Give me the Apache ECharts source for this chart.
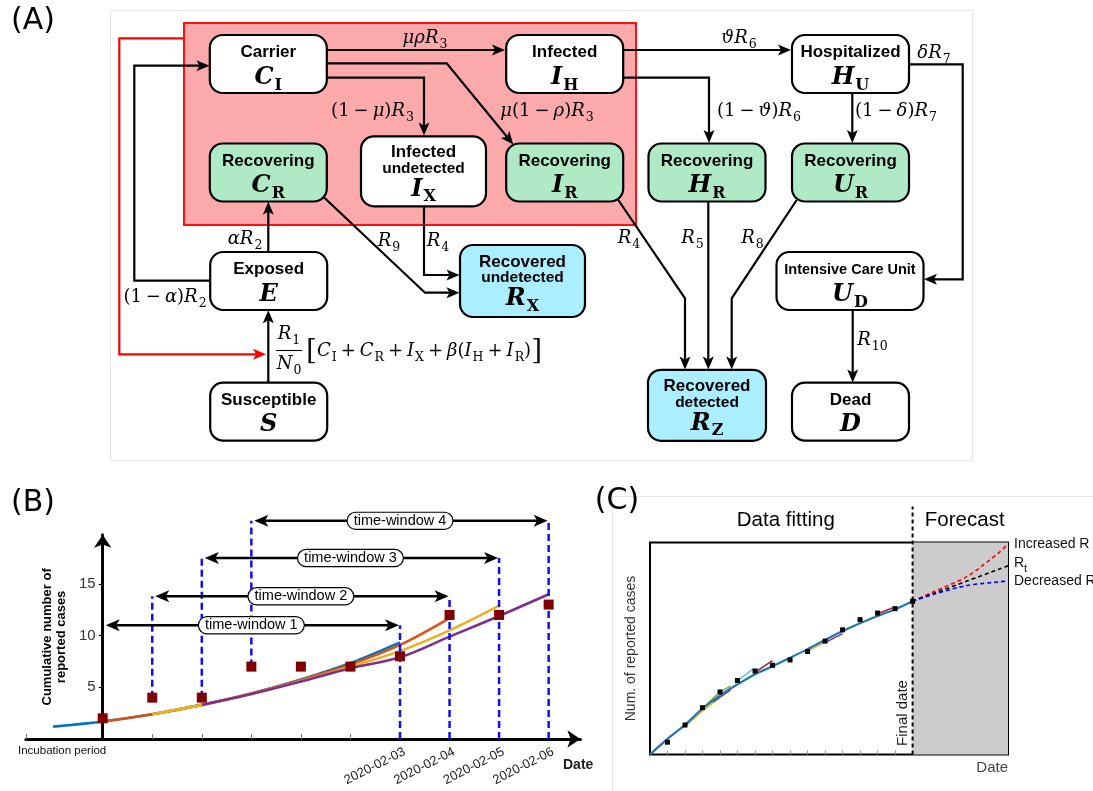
<!DOCTYPE html>
<html><head><meta charset="utf-8">
<script src="https://cdn.jsdelivr.net/npm/echarts@6.0.0/dist/echarts.min.js"></script>
<style>html,body{margin:0;padding:0;background:#fff}#c{width:1093px;height:791px}</style>
</head><body><div id="c"></div><script>
// ================= Panel A : compartment model =================
const nodeTitle = ['Carrier','Infected','Hospitalized','Recovering','Infected','Recovering','Recovering','Recovering','Exposed','Recovered','Intensive Care Unit','Susceptible','Recovered','Dead'];
const nodeSubtitle = ['','','','','undetected','','','','','undetected','','','detected',''];
const nodeSymbol = ['C','I','H','C','I','I','H','U','E','R','U','S','R','D'];
const nodeSymbolSub = ['I','H','U','R','X','R','R','R','','X','D','','Z',''];
const nodeGroup = ['active','active','active','recovering','active','recovering','recovering','recovering','active','recovered','active','active','recovered','active'];
// diagram layout (diagram coordinates)
const nodeCX = [268.3,564.7,850.5,268.3,423.5,564.7,707,850.5,268.7,522.5,850,268.7,707,850.5];
const nodeCY = [64,64,64,172.5,171.3,172.5,172.5,172.5,281,281,281,411.7,405.3,411.7];
const nodeW = [117,117,117,117,125,117,117,117,117,125,147,117,118,117];
const nodeH = [58,58,58,58,70,58,58,58,58,72,58,58,71,58];

const rateTex = ['μρR_3','(1−μ)R_3','μ(1−ρ)R_3','ϑR_6','(1−ϑ)R_6','(1−δ)R_7','δR_7','αR_2','(1−α)R_2','R_9','R_4','R_4','R_5','R_8','R_{10}'];
const ratePos = [[425,38.5],[372.5,111],[547,111],[739,38.5],[759,111],[896,111],[934,53],[245,239],[165,297.5],[389,241.5],[438,241.5],[629,238.5],[692.5,238.5],[752.5,238.5],[872.5,340]];
const forceNum = 'R_1', forceDen = 'N_0', forceSum = '[C_I+C_R+I_X+β(I_H+I_R)]';

const flowPath = [
  [[327,50],[505,50]],
  [[327,77.7],[424,77.7],[424,135.5]],
  [[327,63.3],[446.7,63.3],[513.3,144.5]],
  [[623.5,50],[791,50]],
  [[623.5,77.7],[709,77.7],[709,143]],
  [[852.3,93.5],[852.3,143]],
  [[909.5,64.3],[962.7,64.3],[962.7,279.3],[924,279.3]],
  [[268.3,251.7],[268.3,201.8]],
  [[210,280.7],[134.3,280.7],[134.3,65.7],[209.5,65.7]],
  [[268.3,382.7],[268.3,310.3]],
  [[323.3,196.7],[425,292.7],[459.5,292.7]],
  [[424,206.5],[424,275],[459.5,275]],
  [[618.3,200],[685,298.3],[685,369.5]],
  [[708.3,201.8],[708.3,369.5]],
  [[796.7,200],[731.7,298.3],[731.7,369.5]],
  [[852.7,310],[852.7,382.5]]
];
const feedbackPath = [[[184,38.3],[119.3,38.3],[119.3,354.3],[266,354.3]]];

// ================= Panel B : time windows =================
const bDays = [0,1,2,3,4,5,6,7,8,9];
const bReported = [2,4,4,7,7,7,8,12,12,13];
const bDateTicks = [6,7,8,9];
const bDateLabels = ['2020-02-03','2020-02-04','2020-02-05','2020-02-06'];
const bYTicks = [5,10,15];
const bFitW1 = [[-1,1.2],[0,1.7],[1,2.4],[2,3.3],[3,4.4],[4,5.75],[5,7.35],[6,9.35]];
const bFitW2 = [[0,1.7],[1,2.4],[2,3.3],[3,4.4],[4,5.7],[5,7.2],[6,9.1],[7,11.7]];
const bFitW3 = [[1,2.4],[2,3.3],[3,4.35],[4,5.6],[5,7.0],[6,8.5],[7,10.5],[8,12.9]];
const bFitW4 = [[2,3.3],[3,4.35],[4,5.55],[5,6.85],[6,7.9],[7,9.9],[8,11.9],[9,14.0]];
const windowNames = ['time-window 1','time-window 2','time-window 3','time-window 4'];
const windowStart = [0,1,2,3];
const windowEnd = [6,7,8,9];
const windowLevel = [11.0,13.8,17.5,21.1];

// ================= Panel C : fitting & forecast =================
const cDays = [1,2,3,4,5,6,7,8,9,10,11,12,13,14,15];
const cReported = [5.8,13.9,22.1,29.5,34.9,39.4,42.1,44.6,48.6,53.5,58.8,63.6,66.7,68.8,72.3];
const cFitDays = [0,1,2,3,4,5,6,7,8,9,10,11,12,13,14,15];
const cFit = [0,7.4,14.0,21.6,27.9,33.1,37.9,41.6,45.6,49.7,54.0,58.2,61.9,65.3,68.5,72.3];
const cWinFit1 = [[0,0],[0.9,6.6]];
const cWinFit2 = [[2,13.2],[3,20.5],[4,26.8]];
const cWinFit3 = [[3,21.8],[4,29.6],[4.6,32.2]];
const cWinFit4 = [[3.6,24.8],[4,27.0],[4.6,30.4]];
const cWinFit5 = [[5,34.9],[5.9,40.4]];
const cWinFit6 = [[5.9,38.3],[7,44.3]];
const cWinFit7 = [[9,48.8],[10,53.0]];
const cWinFit8 = [[10,52.8],[11,57.0]];
const cWinFit9 = [[13,66.4],[14,69.6]];
const cWinColors = ['#a2142f','#edb120','#77ac30','#7e2f8e','#4dbeee','#a2142f','#edb120','#7e2f8e','#a2142f'];
const cFinalDay = 15;
const cFcDays = [15,16.2,18.1,20.0,20.45];
const cFcIncreased = [72.3,76.8,83.9,95.7,99.4];
const cFcRt = [72.3,76.0,81.8,87.6,89.0];
const cFcDecreased = [72.3,75.6,79.7,81.5,81.9];
const cScenarioNames = ['Increased R','R_t','Decreased R'];

// ================= helpers =================
const SERIF = 'DejaVu Serif', SANS = 'Liberation Sans';
function mathRich(str) {
  let out = '', i = 0;
  while (i < str.length) {
    const ch = str[i];
    if (ch === '_') {
      let sub = ''; i++;
      if (str[i] === '{') { i++; while (str[i] !== '}') { sub += str[i]; i++; } i++; }
      else { sub = str[i]; i++; }
      out += '{s|' + sub + '}'; continue;
    }
    if (/[A-Za-z\u0370-\u03FF]/.test(ch)) out += '{v|' + ch + '}';
    else if (ch === '−' || ch === '+') out += '{op|' + ch + '}';
    else if (ch === '[' || ch === ']') out += '{br|' + ch + '}';
    else if (ch !== ' ') out += '{n|' + ch + '}';
    i++;
  }
  return out;
}
const mathStyle = {
  v: {fontFamily: SERIF, fontStyle: 'italic', fontSize: 18, lineHeight: 22, fill: '#000'},
  n: {fontFamily: SERIF, fontSize: 18, lineHeight: 22, fill: '#000'},
  op: {fontFamily: SERIF, fontSize: 18, lineHeight: 22, padding: [0,4,0,4], fill: '#000'},
  s: {fontFamily: SERIF, fontSize: 12.5, lineHeight: 22, verticalAlign: 'top', padding: [11,0,0,1], fill: '#000'},
  br: {fontFamily: SERIF, fontSize: 28, lineHeight: 22, fontWeight: 'lighter', fill: '#111'}
};
const nodeStyle = {
  t: {fontFamily: SANS, fontWeight: 'bold', fontSize: 17, lineHeight: 20, fill: '#000'},
  ts: {fontFamily: SANS, fontWeight: 'bold', fontSize: 14.5, lineHeight: 20, fill: '#000'},
  t3: {fontFamily: SANS, fontWeight: 'bold', fontSize: 17, lineHeight: 17, fill: '#000'},
  u: {fontFamily: SANS, fontWeight: 'bold', fontSize: 15.5, lineHeight: 14, fill: '#000'},
  m: {fontFamily: SERIF, fontStyle: 'italic', fontWeight: 'bold', fontSize: 24, lineHeight: 30, fill: '#000'},
  ms: {fontFamily: SERIF, fontWeight: 'bold', fontSize: 16, lineHeight: 30, verticalAlign: 'top', padding: [15,0,0,1], fill: '#000'},
  m3: {fontFamily: SERIF, fontStyle: 'italic', fontWeight: 'bold', fontSize: 24, lineHeight: 28, fill: '#000'},
  ms3: {fontFamily: SERIF, fontWeight: 'bold', fontSize: 16, lineHeight: 28, verticalAlign: 'top', padding: [14,0,0,1], fill: '#000'}
};
const nodeFill = {active: '#ffffff', recovering: '#afe9c6', recovered: '#aaeeff'};

function arrowParts(pts, color, lw, opts) {
  opts = opts || {};
  const head = opts.head || [13, 5.5, 3];
  const parts = [];
  const linePts = pts.map(p => p.slice());
  const mk = (tip, prev) => {
    const dx = tip[0]-prev[0], dy = tip[1]-prev[1], L = Math.hypot(dx,dy) || 1;
    const ux = dx/L, uy = dy/L, nx = -uy, ny = ux;
    const len = head[0], hw = head[1], notch = head[2];
    const bx = tip[0]-ux*len, by = tip[1]-uy*len;
    const np = [tip[0]-ux*(len-notch), tip[1]-uy*(len-notch)];
    parts.push({type:'polygon', z2: 2, shape:{points:[tip,[bx+nx*hw,by+ny*hw],np,[bx-nx*hw,by-ny*hw]]}, style:{fill:color}});
    return np;
  };
  const n = pts.length;
  if (opts.end !== false) linePts[n-1] = mk(pts[n-1], pts[n-2]);
  if (opts.start) linePts[0] = mk(pts[0], pts[1]);
  parts.unshift({type:'polyline', z2: 1, shape:{points:linePts}, style:{stroke:color, lineWidth:lw, fill:null, lineDash: opts.dash || null}});
  return parts;
}

function nodeText(i) {
  const three = !!nodeSubtitle[i];
  const m = three ? 'm3' : 'm', ms = three ? 'ms3' : 'ms';
  const sym = '{' + m + '|' + nodeSymbol[i] + '}' + (nodeSymbolSub[i] ? '{' + ms + '|' + nodeSymbolSub[i] + '}' : '');
  if (three) return '{t3|' + nodeTitle[i] + '}\n{u|' + nodeSubtitle[i] + '}\n' + sym;
  const t = nodeTitle[i].length > 14 ? 'ts' : 't';
  return '{' + t + '|' + nodeTitle[i] + '}\n' + sym;
}

// ================= layout constants =================
const B_OX = 102.7, B_UX = 49.55, B_OY = 739, B_UY = 10.34;
const B_XMIN = -1.55, B_XMAX = 9.64, B_YMAX = 19.75;
const C_XMAX = 20.45, C_YMAX = 100;

const chart = echarts.init(document.getElementById('c'), null, {renderer: 'canvas'});

const series = [];
// ---- Panel A series (diagram coordinate grid) ----
series.push({
  type: 'custom', xAxisIndex: 0, yAxisIndex: 0, z: 5, silent: true,
  data: nodeCX.map((x, i) => [x, nodeCY[i]]),
  renderItem: function (params, api) {
    const i = params.dataIndex;
    const c = api.coord([nodeCX[i], nodeCY[i]]);
    const s = api.size([nodeW[i], nodeH[i]]);
    const off = nodeSubtitle[i] ? 2.5 : 3.5;
    return {type: 'group', children: [
      {type: 'rect', shape: {x: c[0]-s[0]/2, y: c[1]-s[1]/2, width: s[0], height: s[1], r: 13},
       style: {fill: nodeFill[nodeGroup[i]], stroke: '#000', lineWidth: 2.2}},
      {type: 'text', x: c[0], y: c[1] + off, z2: 5,
       style: {text: nodeText(i), rich: nodeStyle, align: 'center', verticalAlign: 'middle'}}
    ]};
  }
});
series.push({
  type: 'custom', xAxisIndex: 0, yAxisIndex: 0, z: 4, silent: true,
  data: flowPath.map(p => p[p.length-1]),
  renderItem: function (params, api) {
    const pts = flowPath[params.dataIndex].map(p => api.coord(p));
    return {type: 'group', children: arrowParts(pts, '#000', 2.2)};
  }
});
series.push({
  type: 'custom', xAxisIndex: 0, yAxisIndex: 0, z: 4, silent: true,
  data: feedbackPath.map(p => p[p.length-1]),
  renderItem: function (params, api) {
    const pts = feedbackPath[params.dataIndex].map(p => api.coord(p));
    return {type: 'group', children: arrowParts(pts, '#ff0000', 2.2)};
  }
});
series.push({
  type: 'custom', xAxisIndex: 0, yAxisIndex: 0, z: 6, silent: true,
  data: ratePos,
  renderItem: function (params, api) {
    const c = api.coord(ratePos[params.dataIndex]);
    return {type: 'text', x: c[0], y: c[1],
      style: {text: mathRich(rateTex[params.dataIndex]), rich: mathStyle, align: 'center', verticalAlign: 'middle'}};
  }
});
// infection force term (fraction + bracket)
series.push({
  type: 'custom', xAxisIndex: 0, yAxisIndex: 0, z: 6, silent: true,
  data: [[289, 350.5]],
  renderItem: function (params, api) {
    const c = api.coord([289, 350.5]);
    return {type: 'group', children: [
      {type: 'text', x: c[0], y: c[1]-16, style: {text: mathRich(forceNum), rich: mathStyle, align: 'center', verticalAlign: 'middle'}},
      {type: 'line', shape: {x1: c[0]-13, y1: c[1], x2: c[0]+13, y2: c[1]}, style: {stroke: '#000', lineWidth: 1.1}},
      {type: 'text', x: c[0], y: c[1]+14, style: {text: mathRich(forceDen), rich: mathStyle, align: 'center', verticalAlign: 'middle'}},
      {type: 'text', x: c[0]+17, y: c[1]+1, style: {text: mathRich(forceSum), rich: mathStyle, align: 'left', verticalAlign: 'middle'}}
    ]};
  }
});

// ---- Panel B series ----
const bFits = [bFitW1, bFitW2, bFitW3, bFitW4];
const bColors = ['#0072BD','#D95319','#EDB120','#7E2F8E'];
bFits.forEach((d, k) => series.push({
  type: 'line', xAxisIndex: 1, yAxisIndex: 1, data: d, smooth: 0.35, showSymbol: false, z: 3 + k,
  lineStyle: {color: bColors[k], width: 2.6, opacity: 1}, silent: true
}));
const bVerticals = [];
windowStart.forEach((s, i) => {
  if (s > 0) bVerticals.push([s, bReported[bDays.indexOf(s)], windowLevel[i]]);
  bVerticals.push([windowEnd[i], 0, windowLevel[i]]);
});
series.push({
  type: 'custom', xAxisIndex: 1, yAxisIndex: 1, z: 8, silent: true, clip: false,
  data: bVerticals,
  renderItem: function (params, api) {
    const v = bVerticals[params.dataIndex];
    const a = api.coord([v[0], v[1]]), b = api.coord([v[0], v[2]]);
    return {type: 'line', shape: {x1: a[0], y1: a[1], x2: b[0], y2: b[1]},
      style: {stroke: '#1010ee', lineWidth: 2.5, lineDash: [7, 4]}};
  }
});
series.push({
  type: 'custom', xAxisIndex: 1, yAxisIndex: 1, z: 9, silent: true, clip: false,
  data: windowLevel.map((y, i) => [windowStart[i], y]),
  renderItem: function (params, api) {
    const i = params.dataIndex;
    const a = api.coord([windowStart[i], windowLevel[i]]), b = api.coord([windowEnd[i], windowLevel[i]]);
    const m = api.coord([(windowStart[i] + windowEnd[i]) / 2, windowLevel[i]]);
    const parts = arrowParts([[a[0]+3, a[1]], [b[0]-1, b[1]]], '#000', 2.5, {start: true, end: true, head: [14, 6, 3.5]});
    parts.push({type: 'text', x: m[0], y: m[1], z2: 5, style: {text: windowNames[i], fontFamily: SANS, fontSize: 14.5, fill: '#000',
      backgroundColor: '#fff', borderColor: '#000', borderWidth: 1.2, borderRadius: 9, padding: [1, 6, 0, 6], align: 'center', verticalAlign: 'middle'}});
    return {type: 'group', children: parts};
  }
});
series.push({
  type: 'scatter', xAxisIndex: 1, yAxisIndex: 1, z: 12, silent: true,
  data: bDays.map((d, i) => [d, bReported[i]]), symbol: 'rect', symbolSize: 10,
  itemStyle: {color: '#7f0000', opacity: 1}
});

// ---- Panel C series ----
series.push({
  type: 'line', xAxisIndex: 2, yAxisIndex: 2, z: 1, silent: true, clip: false, showSymbol: false,
  data: [[cFinalDay, 0], [cFinalDay, 117]],
  lineStyle: {color: '#000', width: 2, type: [4, 3]},
  markArea: {silent: true, itemStyle: {color: '#cccccc', opacity: 1}, data: [[{xAxis: cFinalDay, yAxis: 0}, {xAxis: C_XMAX, yAxis: C_YMAX}]]}
});
[cWinFit1,cWinFit2,cWinFit3,cWinFit4,cWinFit5,cWinFit6,cWinFit7,cWinFit8,cWinFit9].forEach((d, k) => series.push({
  type: 'line', xAxisIndex: 2, yAxisIndex: 2, z: 3, silent: true, showSymbol: false, data: d,
  lineStyle: {color: cWinColors[k], width: 1.4}
}));
series.push({
  type: 'line', xAxisIndex: 2, yAxisIndex: 2, z: 5, silent: true, showSymbol: false, smooth: 0.3,
  data: cFitDays.map((d, i) => [d, cFit[i]]), lineStyle: {color: '#1f77b4', width: 2.2}
});
const fcSets = [cFcIncreased, cFcRt, cFcDecreased];
const fcColors = ['#ff0000', '#000000', '#0000ff'];
fcSets.forEach((d, k) => series.push({
  type: 'line', xAxisIndex: 2, yAxisIndex: 2, z: 6, silent: true, showSymbol: false, smooth: 0.3,
  data: cFcDays.map((x, i) => [x, d[i]]), lineStyle: {color: fcColors[k], width: 1.6, type: [4, 3]},
  endLabel: {show: true, distance: 6, offset: k === 1 ? [0, -3] : [0, 0],
    formatter: k === 1 ? '{a|R}{b|t}' : cScenarioNames[k], color: '#111', fontSize: 14, fontFamily: SANS,
    rich: {a: {fontSize: 14, lineHeight: 16, color: '#111', fontFamily: SANS}, b: {fontSize: 11, lineHeight: 16, color: '#111', fontFamily: SANS, verticalAlign: 'top', padding: [9, 0, 0, 0]}}}
}));
series.push({
  type: 'scatter', xAxisIndex: 2, yAxisIndex: 2, z: 8, silent: true,
  data: cDays.map((d, i) => [d, cReported[i]]), symbol: 'rect', symbolSize: 5, itemStyle: {color: '#000', opacity: 1}
});

const txt = (text, x, y, font, opt) => Object.assign({type: 'text', x: x, y: y, silent: true,
  style: Object.assign({text: text, font: font, fill: '#000', align: 'center', verticalAlign: 'middle', textAlign: 'center', textVerticalAlign: 'middle'}, (opt && opt.style) || {})}, (opt && opt.el) || {});

const B_LEFT = B_OX + B_XMIN * B_UX;
const option = {
  animation: false,
  backgroundColor: '#ffffff',
  textStyle: {fontFamily: SANS},
  grid: [
    {left: 0, top: 0, width: 1093, height: 791, containLabel: false, outerBoundsMode: 'none'},
    {left: B_LEFT, top: B_OY - B_YMAX * B_UY, width: (B_XMAX - B_XMIN) * B_UX, height: B_YMAX * B_UY, containLabel: false, outerBoundsMode: 'none'},
    {left: 650, top: 542.5, width: 358, height: 212, show: true, borderColor: '#000', borderWidth: 2, backgroundColor: 'transparent', containLabel: false, outerBoundsMode: 'none'}
  ],
  xAxis: [
    {gridIndex: 0, type: 'value', min: 0, max: 1093, show: false},
    {gridIndex: 1, type: 'value', min: B_XMIN, max: B_XMAX, splitLine: {show: false},
     axisLine: {show: true, onZero: false, lineStyle: {color: '#000', width: 3}, symbol: ['none', 'arrow'], symbolSize: [13, 13]},
     axisTick: {show: true, inside: true, length: 5, customValues: [B_XMIN].concat(bDays.slice(1)), lineStyle: {color: '#777', width: 1}},
     axisLabel: {show: true, customValues: bDateTicks.map(v => v + 0.09), rotate: 27, margin: 12, fontSize: 13, color: '#222', fontFamily: SANS,
       formatter: v => bDateLabels[bDateTicks.indexOf(Math.round(v))] || ''}},
    {gridIndex: 2, type: 'value', min: 0, max: C_XMAX, splitLine: {show: false}, axisLine: {show: false},
     axisTick: {show: true, inside: true, length: 4, customValues: cDays.slice(0, 14), lineStyle: {color: '#999', width: 1}},
     axisLabel: {show: false}}
  ],
  yAxis: [
    {gridIndex: 0, type: 'value', min: 0, max: 791, inverse: true, show: false},
    {gridIndex: 1, type: 'value', min: 0, max: B_YMAX, splitLine: {show: false}, position: 'left', offset: -(B_OX - B_LEFT),
     axisLine: {show: true, onZero: false, lineStyle: {color: '#000', width: 3}, symbol: ['none', 'arrow'], symbolSize: [13, 13]},
     axisTick: {show: true, length: 4, customValues: bYTicks, lineStyle: {color: '#000', width: 1.2}},
     axisLabel: {show: true, customValues: bYTicks, fontSize: 15, color: '#333', margin: 7, fontFamily: SANS},
     name: 'Cumulative number of\nreported cases', nameLocation: 'middle', nameGap: 26, nameRotate: 90,
     nameTextStyle: {fontWeight: 'bold', fontSize: 13, lineHeight: 14, color: '#000', fontFamily: SANS}},
    {gridIndex: 2, type: 'value', min: 0, max: C_YMAX, splitLine: {show: false}, axisLine: {show: false}, axisTick: {show: false}, axisLabel: {show: false},
     name: 'Num. of reported cases', nameLocation: 'middle', nameGap: 12, nameRotate: 90,
     nameTextStyle: {fontSize: 14, color: '#333', fontFamily: SANS}}
  ],
  graphic: [
    {type: 'rect', silent: true, z: -10, shape: {x: 110.5, y: 10.5, width: 862, height: 450}, style: {fill: null, stroke: '#e6e6e6', lineWidth: 1}},
    {type: 'rect', silent: true, z: -5, shape: {x: 184, y: 23, width: 452, height: 202}, style: {fill: '#fca9ab', stroke: '#ff1010', lineWidth: 2}},
    {type: 'polyline', silent: true, z: -10, shape: {points: [[612.5, 791], [612.5, 496.5], [1093, 496.5]]}, style: {fill: null, stroke: '#e6e6e6', lineWidth: 1}},
    txt('(A)', 33, 21, '30px "DejaVu Sans"'),
    txt('(B)', 33, 503, '30px "DejaVu Sans"'),
    txt('(C)', 617, 501, '30px "DejaVu Sans"'),
    txt('Incubation period', 18, 751, '11.5px "Liberation Sans"', {style: {align: 'left', textAlign: 'left', fill: '#111'}}),
    txt('Date', 563, 765, 'bold 14px "Liberation Sans"', {style: {align: 'left', textAlign: 'left', fill: '#222'}}),
    txt('Data fitting', 785.8, 520, '20.5px "Liberation Sans"'),
    txt('Forecast', 964.7, 520, '20.5px "Liberation Sans"'),
    txt('Final date', 903.3, 713, '15px "Liberation Sans"', {el: {rotation: Math.PI / 2}, style: {fill: '#222'}}),
    txt('Date', 1008, 768, '15px "Liberation Sans"', {style: {align: 'right', textAlign: 'right', fill: '#444'}})
  ],
  series: series
};
chart.setOption(option);
</script></body></html>
